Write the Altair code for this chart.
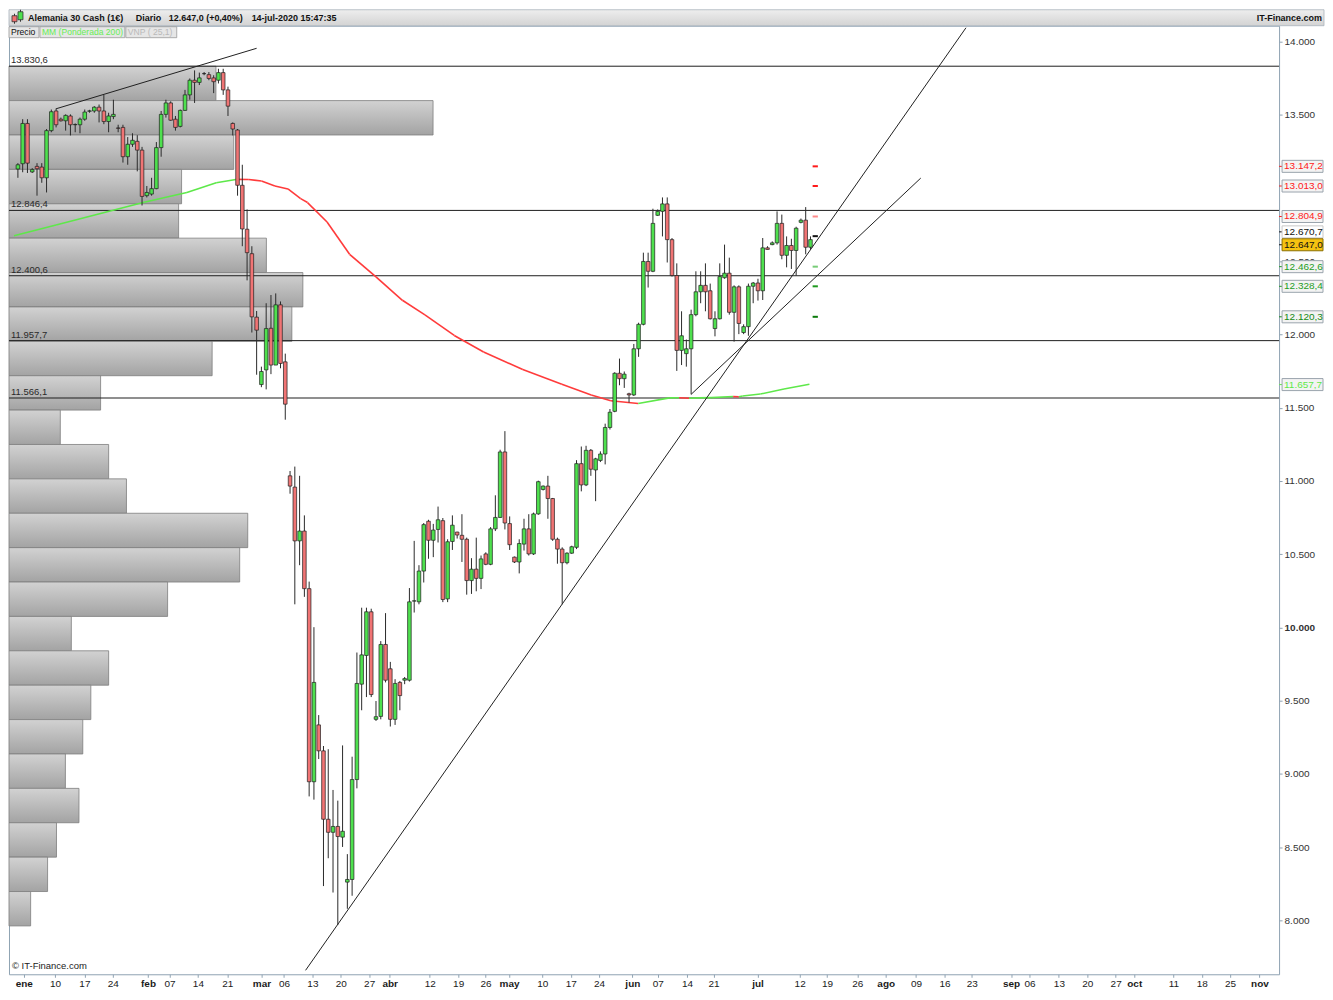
import altair as alt
import pandas as pd

# ---------------- data ----------------
opens = [13129,13165,13440,13109,13147,13142,13069,13391,13525,13469,
13458,13491,13431,13431,13469,13523,13525,13551,13525,13453,
13487,13409,13413,13213,13298,13318,13258,12947,12958,12995,
13275,13502,13580,13469,13420,13529,13635,13735,13720,13780,
13773,13751,13735,13787,13669,13440,13395,13018,12718,12551,
12118,11658,11758,12042,11791,12202,11813,11035,10958,10591,
10658,10265,8947,9335,9158,8691,8602,8642,8569,8262,
8280,8962,9613,9809,10107,9373,9393,9884,9718,9373,
9625,9640,9640,10180,10175,10385,10725,10595,10669,10729,
10195,10587,10651,10629,10602,10320,10398,10335,10502,10431,
10673,10751,11198,10709,10480,10447,10569,10673,10502,10775,
10942,10965,10880,10602,10535,10442,10507,10547,11118,10973,
11209,11075,11140,11184,11365,11475,11735,11698,11595,11587,
11902,12069,12498,12431,12813,12840,12891,12647,12402,11891,
11869,11902,12135,12291,12335,12298,12040,12107,12387,12418,
12151,12325,12013,12053,12329,12351,12298,12591,12613,12625,
12758,12540,12607,12573,12765,12780,12595]
highs = [13169,13469,13469,13135,13169,13169,13402,13535,13542,13480,
13502,13502,13440,13480,13535,13533,13558,13569,13635,13513,
13602,13431,13431,13347,13373,13360,13280,13013,13069,13313,
13525,13602,13591,13491,13535,13669,13747,13802,13787,13791,
13791,13769,13813,13813,13691,13447,13402,13158,12853,12602,
12160,11780,12213,12269,12280,12225,11869,11068,11098,11035,
10765,10313,10002,9402,9191,9169,8891,8818,9195,8453,
9118,9829,10135,10135,10128,9498,9907,10098,9765,9647,
9635,9662,10269,10591,10425,10713,10735,10707,10825,10747,
10602,10765,10653,10773,10613,10473,10613,10491,10513,10685,
10902,11213,11340,10758,10484,10602,10742,10773,10784,11002,
10969,11035,10884,10613,10547,10513,10558,11142,11235,11240,
11218,11158,11202,11391,11491,11742,11835,11747,11602,11935,
12080,12558,12558,12858,12853,12935,12935,12658,12485,12158,
11965,12169,12431,12431,12485,12347,12158,12485,12613,12524,
12335,12335,12069,12347,12358,12380,12658,12602,12635,12840,
12818,12669,12653,12735,12791,12869,12669]
lows = [13069,13107,13102,13102,12947,13035,12969,13380,13413,13453,
13391,13358,13380,13373,13458,13513,13513,13447,13435,13380,
13469,13380,13173,13158,13280,13113,12880,12935,12947,12991,
13213,13480,13458,13391,13413,13525,13602,13580,13702,13769,
13735,13647,13713,13635,13491,13358,12947,12602,12369,12013,
11725,11640,11625,11729,11791,11769,11418,10913,10158,10425,
10209,8847,8825,9102,8235,8425,8191,7969,8502,8080,
8169,8902,9435,9525,9525,9362,9373,9625,9324,9335,
9435,9613,9631,10102,10158,10307,10469,10480,10580,10173,
10173,10529,10607,10447,10224,10229,10247,10262,10425,10425,
10658,10747,10669,10529,10440,10369,10525,10491,10495,10769,
10935,10742,10591,10435,10158,10431,10502,10535,10929,10965,
11035,10862,11129,11113,11351,11469,11653,11635,11535,11580,
11847,12062,12320,12425,12809,12669,12491,12395,11751,11791,
11780,11591,12124,12213,12158,12102,11987,12102,12380,12135,
11951,12002,12002,11991,12213,12231,12235,12580,12609,12613,
12513,12458,12447,12402,12758,12547,12580]
closes = [13158,13440,13169,13125,13131,13069,13391,13520,13431,13458,
13495,13431,13433,13469,13518,13526,13551,13525,13453,13491,
13502,13407,13213,13298,13325,13258,12942,12969,12995,13275,
13502,13580,13462,13413,13529,13635,13735,13720,13751,13780,
13747,13725,13787,13669,13558,13402,13018,12720,12558,12120,
12029,11747,12040,11791,12202,11802,11524,10965,10591,10658,
10265,8947,9625,9158,8691,8602,8642,8573,8609,8280,
8962,9618,9813,10107,9542,9391,9884,9640,9373,9618,
9535,9651,10175,10182,10385,10702,10595,10665,10735,10191,
10585,10698,10631,10602,10320,10398,10335,10468,10431,10673,
10751,11198,10713,10565,10447,10573,10673,10502,10775,10995,
10965,10880,10602,10535,10442,10507,10551,11118,10973,11209,
11080,11151,11184,11365,11469,11735,11698,11729,11587,11902,
12069,12498,12431,12758,12840,12891,12647,12402,11891,11991,
11902,12135,12291,12335,12291,12107,12107,12395,12418,12151,
12325,12075,12053,12329,12351,12298,12591,12580,12625,12758,
12540,12607,12573,12725,12780,12595,12647]

# weighted moving average 200 (session index, value)
ma_slot = [-0.82, 7.99, 26.43, 35.39, 41.54, 45.64, 48.36, 51.02, 53.83, 56.56,
           59.22, 60.66, 64.75, 69.47, 75.0, 80.53, 85.25, 91.39, 97.54, 105.74,
           113.93, 120.08, 124.18, 129.92, 136.48, 138.5, 140.57, 142.6, 145.29, 149.8,
           151.0, 151.8, 155.5, 160.45, 165.78]
ma_val = [12673, 12747, 12902, 12969, 13035, 13058, 13057, 13047, 13013, 12993,
          12927, 12900, 12767, 12547, 12393, 12233, 12133, 11993, 11880, 11760,
          11660, 11587, 11547, 11529, 11567, 11568, 11564, 11567, 11569, 11576,
          11575, 11580, 11593, 11627, 11660]

levels = [13830.6, 12846.4, 12400.6, 11957.7, 11566.1]
level_labels = ["13.830,6", "12.846,4", "12.400,6", "11.957,7", "11.566,1"]

profile_top = 13830.6
profile_step = 234.7
profile_vol = [48.8, 100, 53.0, 40.7, 40.0, 60.7, 69.3, 66.7, 47.9, 21.6, 12.1, 23.5, 27.7,
               56.3, 54.4, 37.4, 14.7, 23.5, 19.3, 17.4, 13.3, 16.5, 11.2, 9.1, 5.1]

trend_x1 = [7.99, 60.25, 141.0]
trend_y1 = [13540, 7660, 11591]
trend_x2 = [50.0, 198.57, 189.1]
trend_y2 = [13953, 14093, 13067]

pivot_vals = [13147.2, 13013.0, 12804.9, 12670.7, 12462.6, 12328.4, 12120.3]
pivot_cols = ["#ff1a1a", "#ff1a1a", "#ff8a8a", "#111111", "#77cc77", "#1f9a1f", "#0a7a0a"]
pivot_slot = 167.0

tag_text = ["13.147,2", "13.013,0", "12.804,9", "12.670,7", "12.647,0",
            "12.462,6", "12.328,4", "12.120,3", "11.657,7"]
tag_pos = [13147.2, 13013.0, 12804.9, 12700.0, 12612.0, 12462.6, 12328.4, 12120.3, 11657.7]
tag_color = ["#ff2020", "#ff2020", "#ff2020", "#111111", "#111111",
             "#1e9e1e", "#1e9e1e", "#138a13", "#5fe84a"]
tag_fill = ["#f3f3f3", "#f3f3f3", "#f3f3f3", "#ffffff", "#f5c211",
            "#f3f3f3", "#f3f3f3", "#f3f3f3", "#f3f3f3"]
tag_stroke = ["#9aa4ad", "#9aa4ad", "#9aa4ad", "#c8c8c8", "#8a6d00",
              "#9aa4ad", "#9aa4ad", "#9aa4ad", "#9aa4ad"]

# price axis labels (13.000 is hidden behind a price tag in the reference)
y_ticks = [8000, 8500, 9000, 9500, 10000, 10500, 11000, 11500, 12000, 12500, 13500, 14000]

tick_slots = [1.23, 7.79, 13.93, 19.88, 27.25, 31.76, 37.70, 43.85, 51.02, 55.74, 61.68,
              67.62, 73.57, 77.87, 86.27, 92.21, 97.95, 102.87, 109.84, 115.78, 121.72,
              128.69, 134.02, 140.16, 145.70, 154.92, 163.73, 169.47, 175.82, 181.76,
              188.11, 194.06, 199.80, 208.0, 211.89, 218.03, 223.98, 229.92, 233.81,
              242.01, 247.95, 253.89, 260.04]
tick_labels = ["ene", "10", "17", "24", "feb", "07", "14", "21", "mar", "06", "13",
               "20", "27", "abr", "12", "19", "26", "may", "10", "17", "24",
               "jun", "07", "14", "21", "jul", "12", "19", "26", "ago",
               "09", "16", "23", "sep", "06", "13", "20", "27", "oct",
               "11", "18", "25", "nov"]
months = {"ene", "feb", "mar", "abr", "may", "jun", "jul", "ago", "sep", "oct", "nov"}

# ---------------- layout ----------------
W, H = 1272, 950
AX = "#8fa3b3"
FONT = "Liberation Sans"
GREEN, RED = "#4ee04e", "#f07474"

xscale = alt.Scale(domain=[-0.82, 263.1], nice=False, zero=False)
yscale = alt.Scale(domain=[7633, 14107], nice=False, zero=False)

month_slots = [s for s, l in zip(tick_slots, tick_labels) if l in months]
xaxis = alt.Axis(
    values=tick_slots, title=None, grid=False, domain=False,
    labelExpr="[" + ",".join("'%s'" % l for l in tick_labels) + "][indexof(["
              + ",".join(str(s) for s in tick_slots) + "], datum.value)]",
    labelFontWeight={"condition": {"test": "indexof([" + ",".join(str(s) for s in month_slots)
                                   + "], datum.value) >= 0", "value": "bold"}, "value": "normal"},
    labelFontSize=10, labelColor="#1a1a1a", tickSize=3, tickColor=AX,
    labelPadding=1, labelFlush=False, labelOverlap=False, labelFont=FONT)
yaxis = alt.Axis(
    orient="right", values=y_ticks, title=None, grid=False, domain=False,
    labelExpr="replace(format(datum.value, ','), ',', '.')",
    labelFontWeight={"condition": {"test": "datum.value == 10000", "value": "bold"}, "value": "normal"},
    labelFontSize=10, labelColor="#333333", tickSize=3, tickColor=AX, labelPadding=2,
    labelFlush=False, labelFont=FONT)


def X(f):
    return alt.X(f, type="quantitative", scale=xscale, axis=xaxis)


def Y(f):
    return alt.Y(f, type="quantitative", scale=yscale, axis=yaxis)


candles = pd.DataFrame({"i": range(len(opens)), "o": opens, "h": highs, "l": lows, "c": closes})
candles["col"] = [GREEN if c >= o else RED for o, c in zip(opens, closes)]

prof = pd.DataFrame({"vol": profile_vol})
prof["hi"] = [profile_top - k * profile_step for k in range(len(profile_vol))]
prof["lo"] = prof["hi"] - profile_step
prof["zero"] = 0.0

ma_rows = []
for k in range(len(ma_slot) - 1):
    col = "#5ee84a" if ma_val[k + 1] >= ma_val[k] else "#ff3b3b"
    for j in (k, k + 1):
        ma_rows.append({"s": ma_slot[j], "v": ma_val[j], "seg": k, "col": col})
ma_df = pd.DataFrame(ma_rows)

lev_df = pd.DataFrame({"v": levels, "t": level_labels})
tr_df = pd.DataFrame({"x1": trend_x1, "y1": trend_y1, "x2": trend_x2, "y2": trend_y2})
piv_df = pd.DataFrame({"v": pivot_vals, "col": pivot_cols})
piv_df["s1"] = pivot_slot - 0.55
piv_df["s2"] = pivot_slot + 0.55
tag_df = pd.DataFrame({"t": tag_text, "v": tag_pos, "col": tag_color, "fill": tag_fill, "stroke": tag_stroke})
tag_df["lo"] = tag_df["v"] - 41
tag_df["hi"] = tag_df["v"] + 41

# ---------------- layers ----------------
profile = alt.Chart(prof).mark_rect(
    fill=alt.Gradient(gradient="linear", x1=0, x2=0, y1=0, y2=1,
                      stops=[alt.GradientStop(offset=0, color="#d2d2d2"),
                             alt.GradientStop(offset=1, color="#a3a3a3")]),
    stroke="#7d7d7d", strokeWidth=0.8
).encode(
    x=alt.X("zero:Q", scale=alt.Scale(domain=[0, 299.5], nice=False, zero=False), axis=None),
    x2="vol:Q", y=Y("lo"), y2="hi:Q")

lev_rules = alt.Chart(lev_df).mark_rule(color="#1e1e1e", strokeWidth=1).encode(y=Y("v"))
lev_text = alt.Chart(lev_df).mark_text(align="left", baseline="bottom", dx=2, dy=-1, fontSize=9.5,
                                       color="#2a2a2a", font=FONT).encode(
    x=alt.value(0), y=Y("v"), text="t:N")

ma_line = alt.Chart(ma_df).mark_line(strokeWidth=1.6, interpolate="monotone").encode(
    x=X("s"), y=Y("v"), detail="seg:N", color=alt.Color("col:N", scale=None))

trends = alt.Chart(tr_df).mark_rule(color="#202020", strokeWidth=1).encode(
    x=X("x1"), y=Y("y1"), x2="x2:Q", y2="y2:Q")

wicks = alt.Chart(candles).mark_rule(color="#2a2a2a", strokeWidth=1).encode(
    x=X("i"), y=Y("l"), y2="h:Q")
bodies = alt.Chart(candles).mark_bar(size=3.6, stroke="#1e1e1e", strokeWidth=0.7).encode(
    x=X("i"), y=Y("o"), y2="c:Q", fill=alt.Fill("col:N", scale=None))

pivots = alt.Chart(piv_df).mark_rule(strokeWidth=2).encode(
    x=X("s1"), x2="s2:Q", y=Y("v"), color=alt.Color("col:N", scale=None))

tag_ticks = alt.Chart(tag_df).mark_rule(strokeWidth=1).encode(
    x=alt.value(W), x2=alt.value(W + 3), y=Y("v"), color=alt.Color("col:N", scale=None))
tag_boxes = alt.Chart(tag_df).mark_rect(strokeWidth=1).encode(
    x=alt.value(W + 3), x2=alt.value(W + 44), y=Y("lo"), y2="hi:Q",
    fill=alt.Fill("fill:N", scale=None), stroke=alt.Stroke("stroke:N", scale=None))
tag_texts = alt.Chart(tag_df).mark_text(align="left", baseline="middle", fontSize=10, font=FONT).encode(
    x=alt.value(W + 5), y=Y("v"), text="t:N", color=alt.Color("col:N", scale=None))

one = pd.DataFrame({"a": [0]})


def box(x1, x2, y1, y2, fill, stroke="#9a9a9a"):
    return alt.Chart(one).mark_rect(fill=fill, stroke=stroke, strokeWidth=0.8).encode(
        x=alt.value(x1), x2=alt.value(x2), y=alt.value(y1), y2=alt.value(y2))


def txt(t, x, y, color="#111111", size=9, weight="normal", align="left"):
    return alt.Chart(pd.DataFrame({"t": [t]})).mark_text(
        align=align, baseline="middle", fontSize=size, fontWeight=weight, color=color, font=FONT
    ).encode(x=alt.value(x), y=alt.value(y), text="t:N")


header_bg = alt.Chart(one).mark_rect(
    fill=alt.Gradient(gradient="linear", x1=0, x2=0, y1=0, y2=1,
                      stops=[alt.GradientStop(offset=0, color="#eeeeee"),
                             alt.GradientStop(offset=1, color="#d3d3d3")]),
    stroke="#a9b4bd", strokeWidth=0.8
).encode(x=alt.value(0), x2=alt.value(W + 45), y=alt.value(-16), y2=alt.value(0))

icon = [
    alt.Chart(one).mark_rule(color="#333", strokeWidth=1).encode(
        x=alt.value(5.5), y=alt.value(-12), y2=alt.value(-2)),
    box(3, 8, -10, -4, "#f07070", "#333"),
    alt.Chart(one).mark_rule(color="#333", strokeWidth=1).encode(
        x=alt.value(11.5), y=alt.value(-16), y2=alt.value(-4)),
    box(9, 14, -14, -6, "#4ee04e", "#333"),
]

header = [
    header_bg, *icon,
    txt("Alemania 30 Cash (1€)", 19, -8, weight="bold"),
    txt("Diario", 127, -8, weight="bold"),
    txt("12.647,0 (+0,40%)", 160, -8, weight="bold"),
    txt("14-jul-2020 15:47:35", 243, -8, weight="bold"),
    txt("IT-Finance.com", W + 43, -8, weight="bold", align="right"),
    box(0, 30, 1, 12, "#e6e6e6"),
    box(31, 116, 1, 12, "#e6e6e6"),
    box(117, 168, 1, 12, "#e6e6e6"),
    txt("Precio", 2, 6.5, size=8.6),
    txt("MM (Ponderada 200)", 33, 6.5, color="#66ee55", size=8.6),
    txt("VNP ( 25,1)", 119, 6.5, color="#b9b9b9", size=8.6),
    txt("© IT-Finance.com", 3, H - 8, size=9.5, color="#222222"),
]

main = alt.layer(
    lev_rules, lev_text, ma_line, trends, wicks, bodies, pivots,
    tag_ticks, tag_boxes, tag_texts, *header
)

chart = alt.layer(profile, main).resolve_scale(x="independent").properties(
    width=W, height=H, padding=0
).configure(font=FONT).configure_view(stroke=AX, strokeWidth=1)

chart.save("out.html", embed_options={"renderer": "svg", "actions": False})
